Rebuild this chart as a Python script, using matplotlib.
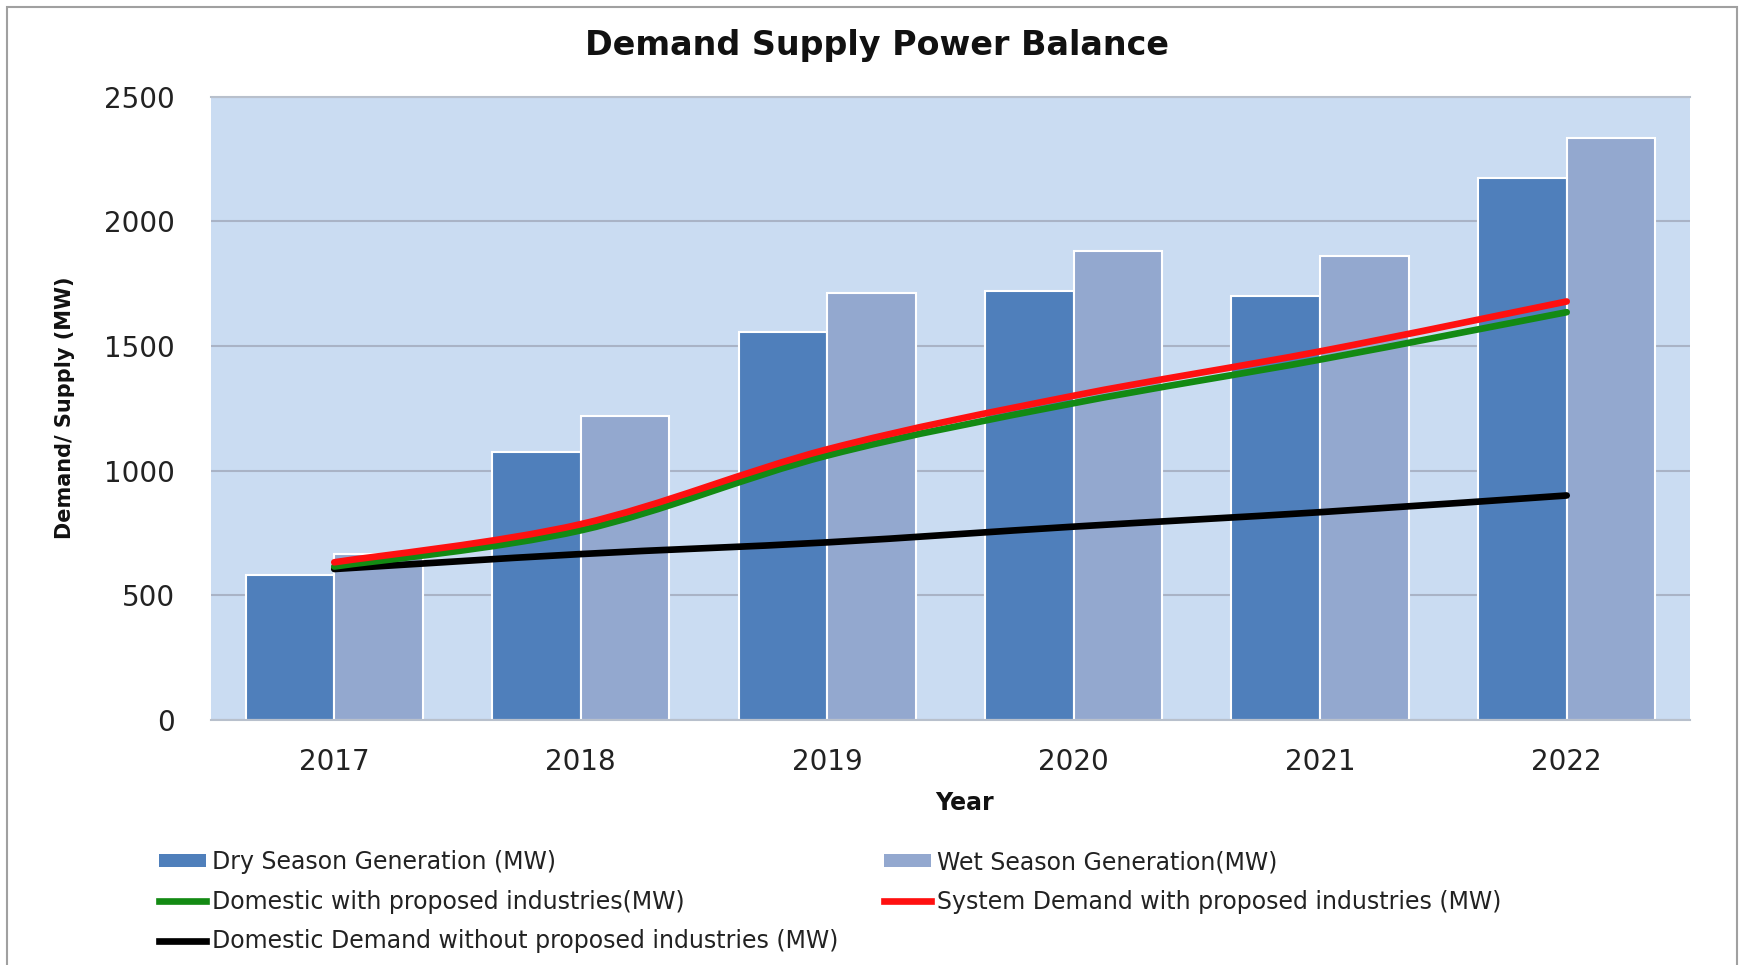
import numpy as np
import matplotlib
matplotlib.use("Agg")
import matplotlib.pyplot as plt
from matplotlib.path import Path
from matplotlib.patches import PathPatch, Patch, Rectangle
from matplotlib.lines import Line2D

plt.rcParams['font.family'] = ['DejaVu Sans']

years = ['2017', '2018', '2019', '2020', '2021', '2022']
dry_season = [580, 1075, 1555, 1720, 1700, 2175]
wet_season = [665, 1220, 1710, 1880, 1860, 2335]
domestic_with_ind = [615, 760, 1060, 1270, 1445, 1635]
system_with_ind = [632, 785, 1085, 1300, 1478, 1678]
domestic_without_ind = [605, 665, 712, 775, 833, 900]

dry_color = '#4f7fbb'
wet_color = '#93a8cf'


def smooth_path(x, y):
    """Catmull-Rom style smoothing drawn as cubic bezier segments (like Excel smooth lines)."""
    pts = np.column_stack([x, y]).astype(float)
    n = len(pts)
    verts = [pts[0]]
    codes = [Path.MOVETO]
    for i in range(n - 1):
        p0 = pts[i - 1] if i > 0 else pts[i]
        p1 = pts[i]
        p2 = pts[i + 1]
        p3 = pts[i + 2] if i + 2 < n else pts[i + 1]
        c1 = p1 + (p2 - p0) / 6.0
        c2 = p2 - (p3 - p1) / 6.0
        verts += [c1, c2, p2]
        codes += [Path.CURVE4] * 3
    return Path(verts, codes)


fig = plt.figure(figsize=(17.44, 9.65), dpi=100)
ax = fig.add_axes([0.121, 0.254, 0.848, 0.646])
ax.set_facecolor('#cadcf2')

x = np.arange(len(years))
w = 0.36
ax.bar(x - w / 2, dry_season, width=w, color=dry_color, edgecolor='white', linewidth=1.5, zorder=2)
ax.bar(x + w / 2, wet_season, width=w, color=wet_color, edgecolor='white', linewidth=1.5, zorder=2)

for vals, col, z in [(domestic_without_ind, 'black', 3),
                     (domestic_with_ind, '#138a13', 4),
                     (system_with_ind, '#ff1010', 5)]:
    ax.add_patch(PathPatch(smooth_path(x, vals), facecolor='none', edgecolor=col,
                           linewidth=4.8, capstyle='round', zorder=z))

ax.set_xlim(-0.5, len(years) - 0.5)
ax.set_ylim(0, 2500)
ax.set_yticks(np.arange(0, 2501, 500))
ax.set_xticks(x)
ax.set_xticklabels(years)
ax.tick_params(axis='y', length=0, pad=26, labelsize=20, labelcolor='#222222')
ax.tick_params(axis='x', length=0, pad=20, labelsize=20, labelcolor='#222222')
ax.grid(axis='y', color='#a9b3c6', linewidth=1.5, zorder=1)
ax.set_axisbelow(True)
for s in ['left', 'right']:
    ax.spines[s].set_visible(False)
for s in ['bottom', 'top']:
    ax.spines[s].set_color('#b8c0cc')
    ax.spines[s].set_linewidth(1.5)

fig.text(0.503, 0.953, 'Demand Supply Power Balance', ha='center', va='center',
         fontsize=24, fontweight='bold', color='#111111')
fig.text(0.037, 0.577, 'Demand/ Supply (MW)', ha='center', va='center', rotation=90,
         fontsize=15, fontweight='bold', color='#111111')
fig.text(0.553, 0.168, 'Year', ha='center', va='center', fontsize=17,
         fontweight='bold', color='#111111')

leg_kw = dict(frameon=False, fontsize=17, handlelength=2.0, handleheight=0.45,
              handletextpad=0.25, labelspacing=0.66, borderpad=0, borderaxespad=0,
              loc='upper left', labelcolor='#222222')
h_dry = Patch(facecolor=dry_color, edgecolor='none')
h_wet = Patch(facecolor=wet_color, edgecolor='none')
h_green = Line2D([], [], color='#138a13', linewidth=4.8)
h_red = Line2D([], [], color='#ff1010', linewidth=4.8)
h_black = Line2D([], [], color='black', linewidth=4.8)

leg1 = fig.legend([h_dry, h_green, h_black],
                  ['Dry Season Generation (MW)', 'Domestic with proposed industries(MW)',
                   'Domestic Demand without proposed industries (MW)'],
                  bbox_to_anchor=(0.091, 0.119), **leg_kw)
leg2 = fig.legend([h_wet, h_red],
                  ['Wet Season Generation(MW)', 'System Demand with proposed industries (MW)'],
                  bbox_to_anchor=(0.507, 0.119), **leg_kw)

fig.add_artist(Rectangle((0.004, -0.01), 0.992, 1.003, transform=fig.transFigure,
                         fill=False, edgecolor='#a0a0a0', linewidth=1.5))

fig.savefig('out.png', dpi=100)
